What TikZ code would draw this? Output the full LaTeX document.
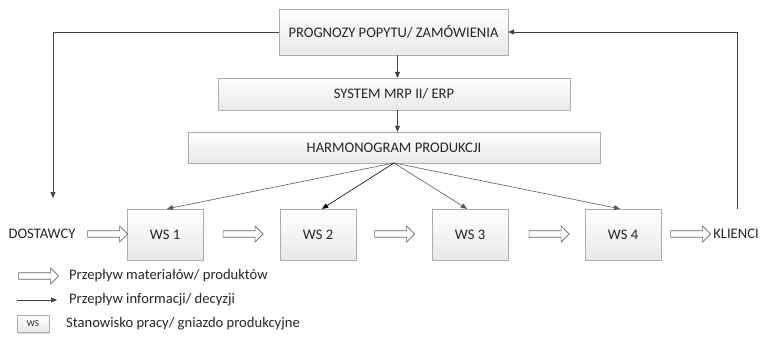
\documentclass[tikz,border=0pt]{standalone}
\usepackage{fontspec}
\setmainfont{Carlito}
\usetikzlibrary{arrows.meta,shapes.arrows,shadows}
\begin{document}
\begin{tikzpicture}[x=1pt,y=-1pt,
  font=\fontsize{14.6}{16}\selectfont,
  procbox/.style={draw=gray!65, top color=white, bottom color=gray!18,
    drop shadow={shadow xshift=1pt, shadow yshift=-1pt, opacity=0.25},
    inner sep=0pt, text=black!85},
  wsbox/.style={procbox, minimum width=76pt, minimum height=51pt},
  flow/.style={single arrow, draw=black!60, fill=white, line width=0.7pt,
    minimum height=40pt, minimum width=16pt, single arrow head extend=3.5pt,
    single arrow head indent=0pt, inner sep=2pt},
  info/.style={draw=black!75, line width=0.6pt,
    -{Triangle[length=6pt,width=5pt]}},
  lbl/.style={text=black!85, inner sep=0pt}]
\useasboundingbox (0,0) rectangle (762,337);

% planning levels
\node[procbox, minimum width=229pt, minimum height=46pt] (prog) at (393.5,32) {PROGNOZY POPYTU/ ZAMÓWIENIA};
\node[procbox, minimum width=352pt, minimum height=32pt] (mrp) at (394,94) {SYSTEM MRP II/ ERP};
\node[procbox, minimum width=412pt, minimum height=31pt] (harm) at (394,147.5) {HARMONOGRAM PRODUKCJI};

% work stations
\node[wsbox] (ws1) at (165,234.5) {WS 1};
\node[wsbox] (ws2) at (318,234.5) {WS 2};
\node[wsbox] (ws3) at (470,234.5) {WS 3};
\node[wsbox] (ws4) at (623,234.5) {WS 4};

\node[lbl] (dost) at (42,234) {DOSTAWCY};
\node[lbl] (kli) at (736,234) {KLIENCI};

% material flow
\node[flow] (f0) at (106,234) {};
\node[flow] (f1) at (241.5,234) {};
\node[flow] (f2) at (393,234) {};
\node[flow] (f3) at (547.5,234) {};
\node[flow] (f4) at (689,234) {};

% information flow
\draw[info] (prog.south -| mrp.north) ++(3.5,0) coordinate (p1) -- (p1 |- mrp.north);
\draw[info] (mrp.south) ++(3.5,0) coordinate (p2) -- (p2 |- harm.north);
\coordinate (dtop) at (53,198);
\coordinate (ktop) at (737,209);
\draw[info] (prog.west) -| (dtop);
\draw[info] (ktop) |- (prog.east);
\coordinate (hs) at (394,163);
\draw[info, draw=black!65] (hs) -- ([xshift=2pt]ws1.north);
\draw[info, draw=black] (hs) -- ([xshift=4pt]ws2.north);
\draw[info, draw=black!65] (hs) -- ([xshift=-3pt]ws3.north);
\draw[info, draw=black!65] (hs) -- ([xshift=-3pt]ws4.north);

% legend
\node[flow] (lf) at (37,276) {};
\node[lbl, anchor=west] (lft) at (69,276) {Przepływ materiałów/ produktów};
\coordinate (la) at (17,300);
\coordinate (lb) at (57,300);
\draw[info] (la) -- (lb);
\node[lbl, anchor=west] (lat) at (69,300) {Przepływ informacji/ decyzji};
\node[procbox, minimum width=32pt, minimum height=17pt, font=\fontsize{9}{10}\selectfont] (lws) at (33,324) {WS};
\node[lbl, anchor=west] (lwt) at (66,324) {Stanowisko pracy/ gniazdo produkcyjne};
\end{tikzpicture}
\end{document}
